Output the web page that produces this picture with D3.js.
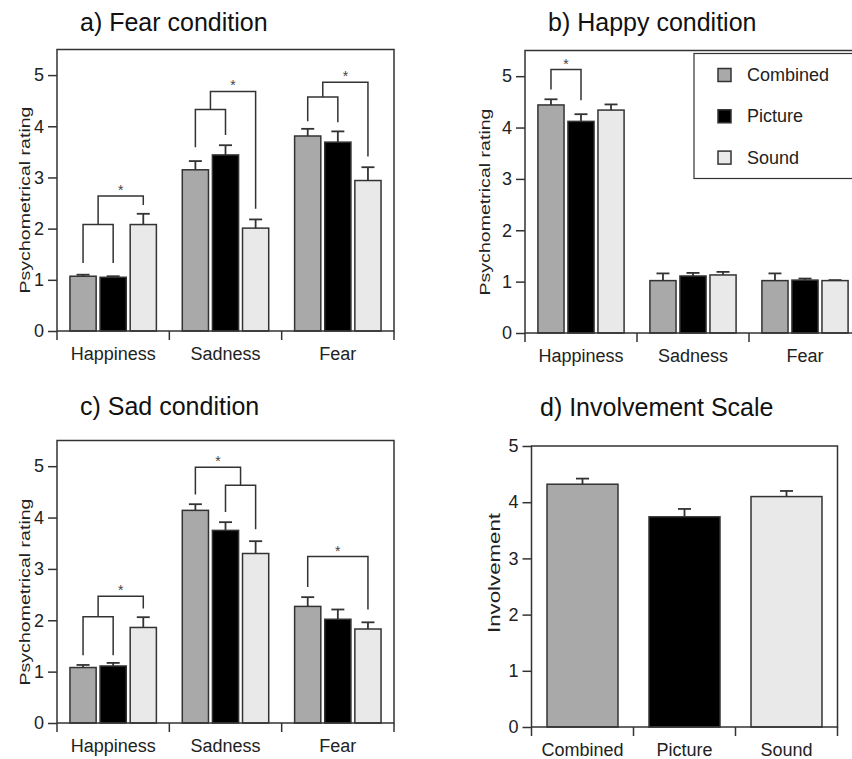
<!DOCTYPE html>
<html>
<head>
<meta charset="utf-8">
<script src="https://cdn.jsdelivr.net/npm/d3@7"></script>
<style>
	body { margin: 0; background: #fff; }
	svg { display: block; font-family: "Liberation Sans", Arial, sans-serif; }
</style>
</head>
<body>
<div id="chartDiv"></div>
<script>
;(function() {

	// categories
	var emotions = ["Happiness", "Sadness", "Fear"];
	var modalities = ["Combined", "Picture", "Sound"];
	var yTicks = [0, 1, 2, 3, 4, 5];

	// means [emotion][modality] and upward error (SEM)
	var fearMeans = [[1.07, 1.05, 2.08], [3.15, 3.44, 2.01], [3.81, 3.69, 2.94]];
	var fearErr = [[0.03, 0.02, 0.21], [0.17, 0.19, 0.17], [0.14, 0.21, 0.26]];
	var happyMeans = [[4.44, 4.12, 4.34], [1.02, 1.11, 1.13], [1.02, 1.03, 1.02]];
	var happyErr = [[0.11, 0.14, 0.11], [0.14, 0.06, 0.06], [0.14, 0.03, 0.01]];
	var sadMeans = [[1.08, 1.11, 1.86], [4.14, 3.75, 3.30], [2.27, 2.02, 1.83]];
	var sadErr = [[0.05, 0.06, 0.20], [0.12, 0.16, 0.24], [0.18, 0.19, 0.13]];
	var involveMeans = [4.32, 3.74, 4.10];
	var involveErr = [0.10, 0.14, 0.10];

	// significance brackets: group, from bar, to bar (x.5 = middle of lower bracket), top, left leg end, right leg end
	var fearBrackets = [
		{ g: 0, a: 0, b: 1, y: 2.08, ya: 1.33, yb: 1.33 },
		{ g: 0, a: 0.5, b: 2, y: 2.64, ya: 2.08, yb: 2.46, star: true },
		{ g: 1, a: 0, b: 1, y: 4.33, ya: 3.59, yb: 3.83 },
		{ g: 1, a: 0.5, b: 2, y: 4.68, ya: 4.33, yb: 2.39, star: true },
		{ g: 2, a: 0, b: 1, y: 4.57, ya: 4.10, yb: 4.08 },
		{ g: 2, a: 0.5, b: 2, y: 4.86, ya: 4.57, yb: 3.41, star: true }
	];
	var happyBrackets = [
		{ g: 0, a: 0, b: 1, y: 5.13, ya: 4.74, yb: 4.53, star: true }
	];
	var sadBrackets = [
		{ g: 0, a: 0, b: 1, y: 2.07, ya: 1.32, yb: 1.32 },
		{ g: 0, a: 0.5, b: 2, y: 2.47, ya: 2.07, yb: 2.23, star: true },
		{ g: 1, a: 1, b: 2, y: 4.63, ya: 4.11, yb: 3.77 },
		{ g: 1, a: 0, b: 1.5, y: 4.98, ya: 4.45, yb: 4.63, star: true },
		{ g: 2, a: 0, b: 2, y: 3.24, ya: 2.65, yb: 2.21, star: true }
	];

	var fills = ["#a9a9a9", "#000000", "#e9e9e9"];
	var ink = "#333";
	var width = 852;
	var height = 759;

	var svg = d3.select("#chartDiv").append("svg")
		.attr("width", width)
		.attr("height", height);

	groupedPanel({
		title: "a) Fear condition", titleX: 80, titleY: 31,
		left: 57, right: 394, top: 49.5, bottom: 331, yLabelX: 25, yLabelY: 200, yLabelLen: 187, yLabelSize: 14.5,
		means: fearMeans, err: fearErr, brackets: fearBrackets
	});
	groupedPanel({
		title: "b) Happy condition", titleX: 548, titleY: 31,
		left: 525, right: 861, top: 50.5, bottom: 333, yLabelX: 485, yLabelY: 202, yLabelLen: 187, yLabelSize: 14.5,
		means: happyMeans, err: happyErr, brackets: happyBrackets, legend: true
	});
	groupedPanel({
		title: "c) Sad condition", titleX: 80, titleY: 415,
		left: 57, right: 394, top: 440.5, bottom: 723, yLabelX: 25, yLabelY: 592, yLabelLen: 187, yLabelSize: 14.5,
		means: sadMeans, err: sadErr, brackets: sadBrackets
	});
	involvementPanel();

	function frameAndYAxis(g, cfg, y, label) {
		g.append("rect")
			.attr("x", cfg.left).attr("y", cfg.top)
			.attr("width", cfg.right - cfg.left).attr("height", cfg.bottom - cfg.top)
			.attr("fill", "none").attr("stroke", ink).attr("stroke-width", 1.5);

		var yAxis = g.append("g")
			.attr("transform", "translate(" + cfg.left + ",0)")
			.call(d3.axisLeft(y).tickValues(yTicks).tickFormat(d3.format("d")).tickSize(9).tickPadding(4));
		yAxis.select(".domain").remove();
		yAxis.selectAll("line").attr("stroke", ink).attr("stroke-width", 1.5);
		yAxis.selectAll("text").attr("fill", "#222").style("font-size", "18px").style("font-family", "inherit");

		// axis label: the original is drawn narrow and long, so stretch it along its run
		g.append("text")
			.attr("transform", "translate(" + cfg.yLabelX + "," + cfg.yLabelY + ") rotate(-90)")
			.attr("text-anchor", "middle")
			.attr("dominant-baseline", "central")
			.attr("fill", "#222")
			.attr("textLength", cfg.yLabelLen)
			.attr("lengthAdjust", "spacingAndGlyphs")
			.style("font-size", cfg.yLabelSize + "px")
			.text(label);

		g.append("text")
			.attr("x", cfg.titleX).attr("y", cfg.titleY)
			.attr("fill", "#111")
			.style("font-size", "25px")
			.text(cfg.title);
	}

	function xAxisWithBoundaries(g, cfg, x0, cats) {
		var bounds = cats.map(function(c) { return x0(c); }).concat([x0(cats[cats.length - 1]) + x0.bandwidth()]);
		g.selectAll(".xtick").data(bounds).enter().append("line")
			.attr("x1", function(d) { return d; }).attr("x2", function(d) { return d; })
			.attr("y1", cfg.bottom).attr("y2", cfg.bottom + 9)
			.attr("stroke", ink).attr("stroke-width", 1.5);

		var xAxis = g.append("g")
			.attr("transform", "translate(0," + cfg.bottom + ")")
			.call(d3.axisBottom(x0).tickSize(0).tickPadding(16));
		xAxis.select(".domain").remove();
		xAxis.selectAll("text").attr("fill", "#222").style("font-size", "18px").style("font-family", "inherit");
	}

	function errorBars(g, sel, xc, ytop, yerr) {
		sel.append("line")
			.attr("x1", xc).attr("x2", xc)
			.attr("y1", ytop).attr("y2", yerr)
			.attr("stroke", ink).attr("stroke-width", 1.8);
		sel.append("line")
			.attr("x1", function(d, i) { return xc(d, i) - 6.5; })
			.attr("x2", function(d, i) { return xc(d, i) + 6.5; })
			.attr("y1", yerr).attr("y2", yerr)
			.attr("stroke", ink).attr("stroke-width", 1.8);
	}

	function groupedPanel(cfg) {
		var g = svg.append("g");
		var y = d3.scaleLinear().domain([0, 5.5]).range([cfg.bottom, cfg.top]);
		var x0 = d3.scaleBand().domain(emotions).range([cfg.left, cfg.right]);
		var x1 = d3.scaleBand().domain(d3.range(modalities.length))
			.range([0, x0.bandwidth()]).paddingInner(0.13).paddingOuter(0.43);

		var rows = [];
		emotions.forEach(function(e, gi) {
			modalities.forEach(function(m, mi) {
				rows.push({ g: gi, m: mi, v: cfg.means[gi][mi], e: cfg.err[gi][mi] });
			});
		});
		function cx(d) { return x0(emotions[d.g]) + x1(d.m) + x1.bandwidth() / 2; }
		function barX(gi, pos) {
			// pos may be fractional: x.5 is the middle between two bar centres
			var lo = Math.floor(pos), hi = Math.ceil(pos);
			var a = x0(emotions[gi]) + x1(lo) + x1.bandwidth() / 2;
			var b = x0(emotions[gi]) + x1(hi) + x1.bandwidth() / 2;
			return a + (b - a) * (pos - lo);
		}

		var bars = g.selectAll(".bar").data(rows).enter().append("g");
		bars.append("rect")
			.attr("x", function(d) { return x0(emotions[d.g]) + x1(d.m); })
			.attr("y", function(d) { return y(d.v); })
			.attr("width", x1.bandwidth())
			.attr("height", function(d) { return y(0) - y(d.v); })
			.attr("fill", function(d) { return fills[d.m]; })
			.attr("stroke", ink).attr("stroke-width", 1.5);
		errorBars(g, bars, cx, function(d) { return y(d.v); }, function(d) { return y(d.v + d.e); });

		frameAndYAxis(g, cfg, y, "Psychometrical rating");
		xAxisWithBoundaries(g, cfg, x0, emotions);

		// significance brackets
		var br = g.selectAll(".bracket").data(cfg.brackets).enter().append("g");
		br.append("path")
			.attr("d", function(d) {
				var xa = barX(d.g, d.a), xb = barX(d.g, d.b);
				return "M" + xa + "," + y(d.ya) + "V" + y(d.y) + "H" + xb + "V" + y(d.yb);
			})
			.attr("fill", "none").attr("stroke", ink).attr("stroke-width", 1.5);
		br.filter(function(d) { return d.star; }).append("text")
			.attr("x", function(d) { return (barX(d.g, d.a) + barX(d.g, d.b)) / 2; })
			.attr("y", function(d) { return y(d.y) - 1; })
			.attr("text-anchor", "middle")
			.attr("fill", "#444")
			.style("font-size", "14px")
			.text("*");

		if (cfg.legend) {
			var lg = g.append("g");
			lg.append("rect")
				.attr("x", 694).attr("y", 53.5).attr("width", 200).attr("height", 125)
				.attr("fill", "#fff").attr("stroke", ink).attr("stroke-width", 1.2);
			var item = lg.selectAll(".item").data(modalities).enter().append("g")
				.attr("transform", function(d, i) { return "translate(718," + (75 + i * 41.3) + ")"; });
			item.append("rect")
				.attr("x", 0).attr("y", -6.5).attr("width", 13).attr("height", 13)
				.attr("fill", function(d, i) { return fills[i]; })
				.attr("stroke", ink).attr("stroke-width", 1.5);
			item.append("text")
				.attr("x", 29).attr("y", 0)
				.attr("dominant-baseline", "central")
				.attr("fill", "#222")
				.style("font-size", "18px")
				.text(function(d) { return d; });
		}
	}

	function involvementPanel() {
		var cfg = {
			title: "d) Involvement Scale", titleX: 540, titleY: 416,
			left: 531.5, right: 837.5, top: 446, bottom: 727, yLabelX: 494, yLabelY: 573, yLabelLen: 120, yLabelSize: 16.5
		};
		var g = svg.append("g");
		var y = d3.scaleLinear().domain([0, 5]).range([cfg.bottom, cfg.top]);
		var x = d3.scaleBand().domain(modalities).range([cfg.left, cfg.right])
			.paddingInner(0.304).paddingOuter(0.152);
		var x0 = d3.scaleBand().domain(modalities).range([cfg.left, cfg.right]);

		var rows = modalities.map(function(m, i) { return { m: m, i: i, v: involveMeans[i], e: involveErr[i] }; });
		function cx(d) { return x(d.m) + x.bandwidth() / 2; }

		var bars = g.selectAll(".bar").data(rows).enter().append("g");
		bars.append("rect")
			.attr("x", function(d) { return x(d.m); })
			.attr("y", function(d) { return y(d.v); })
			.attr("width", x.bandwidth())
			.attr("height", function(d) { return y(0) - y(d.v); })
			.attr("fill", function(d) { return fills[d.i]; })
			.attr("stroke", ink).attr("stroke-width", 1.5);
		errorBars(g, bars, cx, function(d) { return y(d.v); }, function(d) { return y(d.v + d.e); });

		frameAndYAxis(g, cfg, y, "Involvement");
		xAxisWithBoundaries(g, cfg, x0, modalities);
	}

})();
</script>
</body>
</html>
